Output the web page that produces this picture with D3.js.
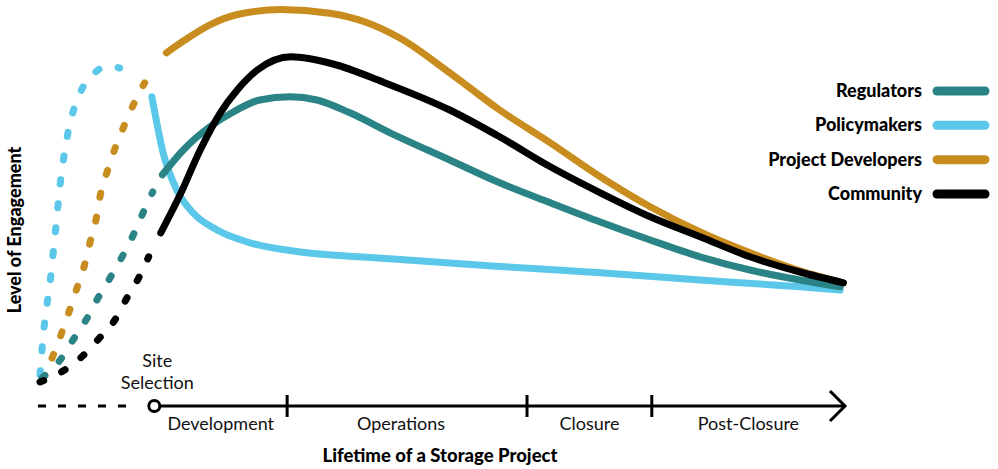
<!DOCTYPE html>
<html><head><meta charset="utf-8">
<script src="https://cdn.jsdelivr.net/npm/d3@7"></script>
<style>body{margin:0;background:#fff}svg{display:block}</style>
</head><body>
<svg id="c" width="998" height="469"></svg>
<script>
// ---- data (time 0..100 arbitrary units, engagement 0..100) ----
const seriesNames = ["Regulators","Policymakers","Project Developers","Community"];
const seriesColors = ["#2A8385","#5BC8EA","#C98D1F","#000000"];

const regulatorsEarly = [[0.25,7],[2.5,11.5],[4.1,16.5],[5.8,21.8],[7.2,27],[8.7,32],[10.2,37.3],[11.6,42.8],[12.8,48.3],[14.0,53.5]];
const regulatorsLife = [[15.2,57.8],[17.8,64],[21.1,69.8],[24.0,73.5],[27.3,76.5],[31.1,77.3],[34.4,76.5],[38.5,73.3],[43.5,68.3],[50.9,61.5],[57.1,55.8],[63.4,50.8],[69.6,46],[75.8,41.5],[82,37.3],[88.2,34],[94.4,31.5],[99.4,29.8]];

const policymakersEarly = [[0,7.8],[0.5,19.5],[1.25,31],[1.9,43.3],[2.5,55.3],[3.35,67],[5,78.3],[6.8,83.3],[8.4,85],[9.9,84.5]];
const policymakersLife = [[13.9,77.3],[15.3,63.3],[17.0,54],[19.0,48.3],[22.0,44],[26.1,40.8],[32.3,38.5],[40.6,37.2],[50,35.9],[57.1,34.9],[69.6,33.3],[82,31.5],[94.4,29.8],[99.4,29]];

const developersEarly = [[0.3,6.5],[1.6,12.5],[2.7,18.3],[3.6,23.5],[4.6,29.5],[5.5,35],[6.2,40.8],[7.0,47],[7.5,52.8],[8.3,58.3],[9.3,64.3],[10.4,69.8],[11.6,75.3],[13.0,80.8]];
const developersLife = [[15.7,88.3],[18.0,91.5],[21.1,95.3],[24.8,98],[30.0,99.1],[36.0,98.2],[40.4,96],[44.7,92],[50.9,83.3],[57.1,74],[63.4,65.8],[69.6,57.3],[75.8,49.8],[82,43.5],[88.2,38.3],[94.4,33.8],[99.8,30.8]];

const communityEarly = [[0,6],[2.9,8.8],[5.3,12.5],[7.3,16.8],[9.3,21.5],[10.8,27],[12.2,31.8],[13.5,37.3]];
const communityLife = [[15.0,43.3],[17.4,52.8],[19.9,64],[22.4,73.3],[24.5,79],[27.0,84],[31.2,87.3],[36.4,85.5],[42.6,81],[50.9,74],[57.1,67.3],[63.4,59.8],[69.6,53.3],[75.8,47.3],[82,42.3],[88.2,37.3],[94.4,33.5],[99.8,30.8]];

const phaseNames = ["Development","Operations","Closure","Post-Closure"];
const phaseBounds = [14.2, 30.7, 60.5, 76.0, 100];
const preStart = -0.25;
const siteSelectionLabel = ["Site","Selection"];
const xTitle = "Lifetime of a Storage Project";
const yTitle = "Level of Engagement";

// ---- drawing ----
const svg = d3.select("#c");
const x = d3.scaleLinear().domain([0,100]).range([40,845]);
const y = d3.scaleLinear().domain([0,100]).range([406,6]);
const line = d3.line().x(d=>x(d[0])).y(d=>y(d[1])).curve(d3.curveMonotoneX);

const series = [
  {early:regulatorsEarly, life:regulatorsLife},
  {early:policymakersEarly, life:policymakersLife},
  {early:developersEarly, life:developersLife},
  {early:communityEarly, life:communityLife}
];
const boldFont = "Lato, sans-serif";
const regFont = "Lato, sans-serif";

const order = [1,2,0,3];
order.forEach(i=>{
  const s = series[i];
  svg.append("path").attr("d", line(s.early)).attr("fill","none")
    .attr("stroke", seriesColors[i]).attr("stroke-width",7)
    .attr("stroke-linecap","round").attr("stroke-dasharray","4 20");
});
order.forEach(i=>{
  const s = series[i];
  svg.append("path").attr("d", line(s.life)).attr("fill","none")
    .attr("stroke", seriesColors[i]).attr("stroke-width",7)
    .attr("stroke-linecap","round");
});

// axis
const ay = y(0);
svg.append("line").attr("x1",x(preStart)).attr("x2",x(phaseBounds[0])-24)
  .attr("y1",ay).attr("y2",ay).attr("stroke","#000").attr("stroke-width",3)
  .attr("stroke-dasharray","8 12");
svg.append("line").attr("x1",x(phaseBounds[0])).attr("x2",x(100)-1)
  .attr("y1",ay).attr("y2",ay).attr("stroke","#000").attr("stroke-width",3);
svg.append("path").attr("d",`M${x(100)-15},${ay-15}L${x(100)},${ay}L${x(100)-15},${ay+15}`)
  .attr("fill","none").attr("stroke","#000").attr("stroke-width",3);
phaseBounds.slice(1,4).forEach(b=>{
  svg.append("line").attr("x1",x(b)).attr("x2",x(b)).attr("y1",ay-11).attr("y2",ay+11)
    .attr("stroke","#000").attr("stroke-width",3);
});
svg.append("circle").attr("cx",x(phaseBounds[0])).attr("cy",ay).attr("r",5.5)
  .attr("fill","#fff").attr("stroke","#000").attr("stroke-width",3);

phaseNames.forEach((n,i)=>{
  svg.append("text").attr("x",(x(phaseBounds[i])+x(phaseBounds[i+1]))/2 - (i===1?6:0)).attr("y",430)
    .attr("text-anchor","middle").attr("font-family",regFont).attr("font-size",18)
    .attr("fill","#111").text(n);
});
siteSelectionLabel.forEach((t,i)=>{
  svg.append("text").attr("x",x(phaseBounds[0])+3).attr("y",367+i*22)
    .attr("text-anchor","middle").attr("font-family",regFont).attr("font-size",18)
    .attr("fill","#111").text(t);
});
svg.append("text").attr("x",440).attr("y",462).attr("text-anchor","middle")
  .attr("font-family",boldFont).attr("font-weight",900).attr("font-size",18.5).text(xTitle);
svg.append("text").attr("transform","translate(21,230) rotate(-90)").attr("text-anchor","middle")
  .attr("font-family",boldFont).attr("font-weight",900).attr("font-size",18).text(yTitle);

// legend
const ly = d3.scalePoint().domain(seriesNames).range([91,194]);
seriesNames.forEach((n,i)=>{
  svg.append("line").attr("x1",937).attr("x2",985).attr("y1",ly(n)).attr("y2",ly(n))
    .attr("stroke",seriesColors[i]).attr("stroke-width",9).attr("stroke-linecap","round");
  svg.append("text").attr("x",922).attr("y",ly(n)+6).attr("text-anchor","end")
    .attr("font-family",boldFont).attr("font-weight",900).attr("font-size",18).text(n);
});
</script>
</body></html>
